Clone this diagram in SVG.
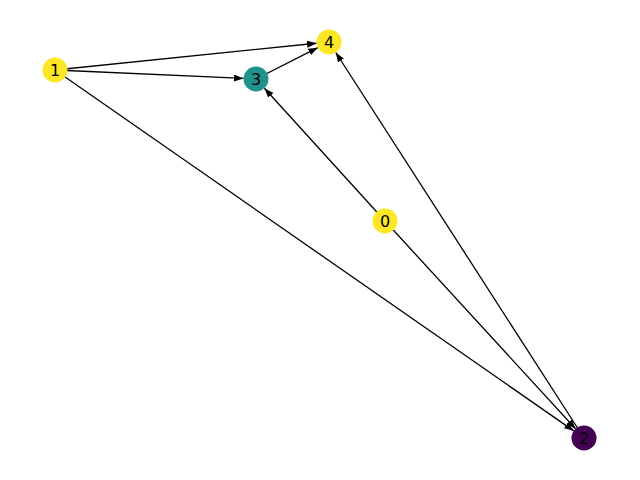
<svg xmlns="http://www.w3.org/2000/svg" width="640" height="480" viewBox="0 0 640 480">
<defs>
<marker id="ah" markerUnits="userSpaceOnUse" markerWidth="10" markerHeight="8" refX="9.5" refY="3.5" orient="auto">
<path d="M0,0 L9.5,3.5 L0,7 z" fill="#000"/>
</marker>
<style>
.e{stroke:#000;stroke-width:1.3;fill:none;marker-end:url(#ah)}
.l{font-family:"DejaVu Sans",sans-serif;font-size:16px;text-anchor:middle;dominant-baseline:central;fill:#000}
</style>
</defs>
<rect width="640" height="480" fill="#fff"/>
<g id="edges">
<line class="e" x1="55" y1="70" x2="316.56" y2="43.27"/>
<line class="e" x1="55" y1="70" x2="243.51" y2="78.44"/>
<line class="e" x1="55" y1="70" x2="573.73" y2="430.87"/>
<line class="e" x1="256" y1="79" x2="317.85" y2="47.65"/>
<line class="e" x1="385" y1="221" x2="264.40" y2="88.25"/>
<line class="e" x1="385" y1="221" x2="575.55" y2="428.79"/>
<line class="e" x1="584" y1="438" x2="335.77" y2="52.51"/>
</g>
<g id="node0"><circle cx="385" cy="221" r="12.5" fill="#fde725"/><text class="l" x="385" y="221">0</text></g>
<g id="node1"><circle cx="55" cy="70" r="12.5" fill="#fde725"/><text class="l" x="55" y="70">1</text></g>
<g id="node2"><circle cx="584" cy="438" r="12.5" fill="#440154"/><text class="l" x="584" y="438">2</text></g>
<g id="node3"><circle cx="256" cy="79" r="12.5" fill="#21918c"/><text class="l" x="256" y="79">3</text></g>
<g id="node4"><circle cx="329" cy="42" r="12.5" fill="#fde725"/><text class="l" x="329" y="42">4</text></g>
</svg>
